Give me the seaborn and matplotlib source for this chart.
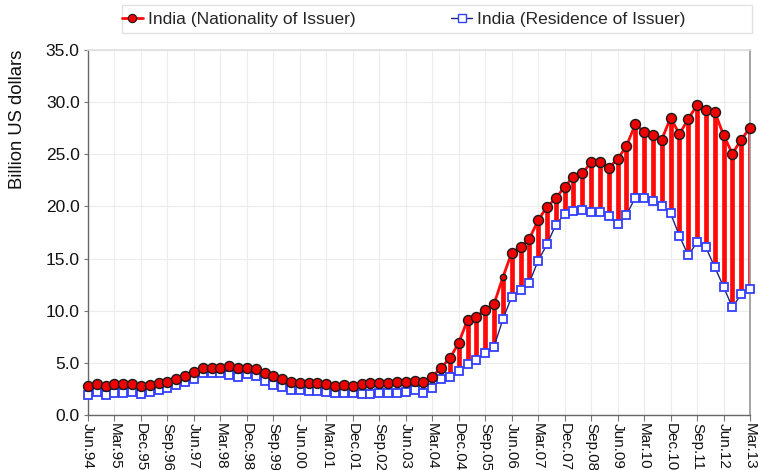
import matplotlib
matplotlib.use("Agg")
import matplotlib.pyplot as plt
from matplotlib.lines import Line2D
from matplotlib.patches import Rectangle
from matplotlib.ticker import FormatStrFormatter
import seaborn as sns
import numpy as np
import pandas as pd

tick_labels = ["Jun.94", "Mar.95", "Dec.95", "Sep.96", "Jun.97", "Mar.98", "Dec.98",
               "Sep.99", "Jun.00", "Mar.01", "Dec.01", "Sep.02", "Jun.03", "Mar.04",
               "Dec.04", "Sep.05", "Jun.06", "Mar.07", "Dec.07", "Sep.08", "Jun.09",
               "Mar.10", "Dec.10", "Sep.11", "Jun.12", "Mar.13"]

series_names = ["India (Nationality of Issuer)", "India (Residence of Issuer)"]

nationality = [2.76, 2.98, 2.76, 2.98, 2.98, 2.98, 2.76, 2.84, 3.07, 3.20,
               3.45, 3.77, 4.08, 4.55, 4.55, 4.49, 4.71, 4.55, 4.55, 4.44,
               4.06, 3.74, 3.48, 3.16, 3.10, 3.10, 3.10, 2.97, 2.81, 2.91,
               2.81, 2.97, 3.04, 3.04, 3.10, 3.13, 3.19, 3.29, 3.19, 3.67,
               4.54, 5.43, 6.93, 9.11, 9.43, 10.07, 10.64, 13.20, 15.56, 16.08,
               16.90, 18.67, 19.97, 20.77, 21.90, 22.85, 23.17, 24.23, 24.23, 23.71,
               24.54, 25.79, 27.87, 27.13, 26.85, 26.40, 28.51, 26.94, 28.38, 29.72,
               29.21, 29.08, 26.85, 25.06, 26.40, 27.55]

residence = [1.87, 2.16, 1.90, 2.09, 2.09, 2.16, 2.06, 2.19, 2.38, 2.63,
             2.86, 3.18, 3.50, 3.98, 3.98, 3.98, 3.83, 3.67, 3.92, 3.70,
             3.23, 2.88, 2.65, 2.37, 2.37, 2.33, 2.33, 2.24, 2.14, 2.14,
             2.14, 2.04, 2.04, 2.14, 2.14, 2.14, 2.20, 2.37, 2.08, 2.62,
             3.42, 3.64, 4.22, 4.92, 5.27, 5.98, 6.55, 9.17, 11.34, 11.95,
             12.70, 14.80, 16.36, 18.25, 19.27, 19.56, 19.69, 19.46, 19.46, 19.05,
             18.31, 19.18, 20.84, 20.84, 20.55, 20.01, 19.34, 17.19, 15.31, 16.56,
             16.08, 14.19, 12.30, 10.33, 11.57, 12.08]

small_marker_index = [47]

sns.set_theme(style="white")
plt.rcParams['font.family'] = ['Liberation Sans', 'DejaVu Sans']

df = pd.DataFrame({"q": np.arange(len(nationality)),
                   "nat": nationality, "res": residence})

fig = plt.figure(figsize=(7.58, 4.70), dpi=100)
ax = fig.add_axes([88/758, 55/470, 662/758, 365/470])

RED = "#ff0a0a"
BLUE_EDGE = "#3340ff"
NAVY = "#1c2680"

# high-low bars
ax.vlines(df["q"], df["res"], df["nat"], color=RED, lw=3.4, zorder=2)

big = [i for i in range(len(df)) if i not in small_marker_index]

sns.lineplot(data=df, x="q", y="res", ax=ax, color=NAVY, lw=1.0, marker="s",
             markersize=6, markerfacecolor="white", markeredgecolor=BLUE_EDGE,
             markeredgewidth=1.3, zorder=3, clip_on=False, legend=False)
sns.lineplot(data=df, x="q", y="nat", ax=ax, color=RED, lw=2.0, marker="o",
             markersize=7.2, markerfacecolor="#ee0000", markeredgecolor="#1a1a1a",
             markeredgewidth=1.0, markevery=big, zorder=4, clip_on=False, legend=False)
sm = df.iloc[small_marker_index]
ax.plot(sm["q"], sm["nat"], ls="none", marker="o", markersize=4.5,
        markerfacecolor="#ee0000", markeredgecolor="#1a1a1a", markeredgewidth=1.0, zorder=5)

ax.set_xlim(0, len(df) - 1)
ax.set_ylim(0, 35)
ax.set_xticks(np.arange(0, len(df), 3))
ax.set_xticklabels(tick_labels, rotation=270, fontsize=11, color="#111")
ax.set_yticks(np.arange(0, 35.1, 5))
ax.yaxis.set_major_formatter(FormatStrFormatter("%.1f"))
ax.tick_params(axis="y", labelsize=12.5, labelcolor="#111", length=3, pad=3)
ax.tick_params(axis="x", direction="out", length=4, width=0.8, color="#777",
               bottom=True, pad=1.5)
ax.tick_params(axis="y", direction="out", width=0.8, color="#777", left=True)
ax.grid(True, color="#ececec", lw=0.8)
ax.set_axisbelow(True)
ax.set_xlabel("")
ax.set_ylabel("Billion US dollars", fontsize=13.3, color="#111")
ax.yaxis.set_label_coords(-0.093, 0.81)

for s in ["left", "bottom"]:
    ax.spines[s].set_color("#666")
    ax.spines[s].set_linewidth(1.0)
ax.spines["top"].set_color("#e0e0e0")
ax.spines["right"].set_color("#999")

handles = [
    Line2D([], [], color=RED, lw=2.0, marker="o", markersize=6,
           markerfacecolor="#ee0000", markeredgecolor="#1a1a1a", markeredgewidth=0.8),
    Line2D([], [], color=NAVY, lw=1.0, marker="s", markersize=5.5,
           markerfacecolor="white", markeredgecolor=BLUE_EDGE, markeredgewidth=1.0),
]
fig.patches.append(Rectangle((122/758, 1 - 33/470), 630/758, 28/470,
                             transform=fig.transFigure, facecolor="white",
                             edgecolor="#e2e2e2", lw=1.0, zorder=0))
leg = fig.legend(handles, series_names, ncol=2, loc="center left",
                 bbox_to_anchor=(122/758, 1 - 19/470), frameon=False,
                 fontsize=12.5, handlelength=1.2, handletextpad=0.3,
                 columnspacing=5.5, borderaxespad=0, borderpad=0)

fig.savefig("out.png", dpi=100)
